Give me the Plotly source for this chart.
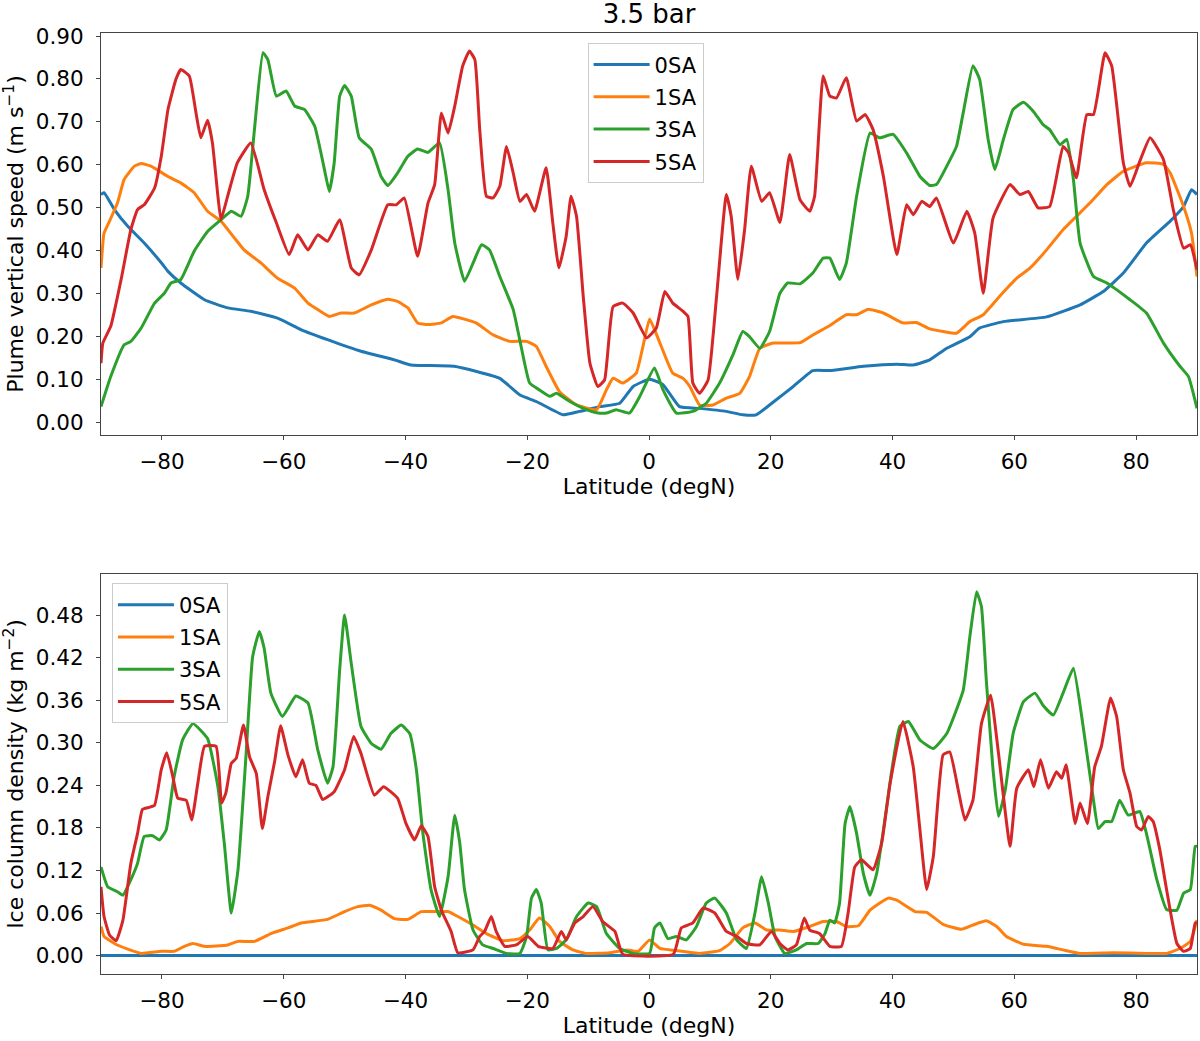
import plotly.graph_objects as go
from plotly.subplots import make_subplots

# latitude (degN), value pairs
speed_0sa = [(-90, 0.531), (-89.5, 0.535), (-87.8, 0.496), (-85.6, 0.457), (-82.9, 0.418), (-80.1, 0.372),
             (-79, 0.352), (-76.9, 0.325), (-73, 0.286), (-69.2, 0.267), (-65.4, 0.259), (-61, 0.243),
             (-57.1, 0.216), (-52.8, 0.193), (-47.3, 0.166), (-41.8, 0.146), (-39.1, 0.134), (-32, 0.131),
             (-24.5, 0.103), (-21.2, 0.064), (-18.5, 0.049), (-14.1, 0.018), (-11.4, 0.026), (-8.1, 0.037),
             (-4.8, 0.045), (-2.6, 0.084), (0.1, 0.101), (2.3, 0.088), (5.0, 0.037), (8.3, 0.033),
             (12.7, 0.026), (15.4, 0.018), (17.6, 0.018), (20.9, 0.053), (23.7, 0.084), (26.9, 0.121),
             (29.7, 0.121), (35.2, 0.131), (40.7, 0.136), (43.4, 0.134), (46.1, 0.146), (48.9, 0.173),
             (52.7, 0.200), (54.3, 0.220), (58.2, 0.235), (65.3, 0.246), (70.8, 0.274), (74.6, 0.305),
             (77.9, 0.348), (81.7, 0.418), (85.6, 0.469), (87.8, 0.503), (89.1, 0.542), (90, 0.531)]

speed_1sa = [(-90, 0.360), (-89.5, 0.441), (-88.6, 0.469), (-87.3, 0.511), (-86.2, 0.566), (-84.5, 0.597),
             (-83.4, 0.603), (-81.8, 0.597), (-79, 0.573), (-76.9, 0.558), (-74.7, 0.535), (-72.5, 0.492),
             (-70.3, 0.469), (-68.1, 0.430), (-66.5, 0.402), (-63.7, 0.371), (-61, 0.336), (-58.2, 0.313),
             (-56, 0.278), (-54.4, 0.263), (-52.5, 0.247), (-50.6, 0.255), (-48.4, 0.255), (-45.6, 0.274),
             (-42.9, 0.287), (-41.3, 0.282), (-39.6, 0.267), (-38, 0.232), (-36.3, 0.228), (-34.1, 0.232),
             (-32.2, 0.247), (-28.4, 0.232), (-25.6, 0.204), (-22.9, 0.189), (-20.1, 0.189), (-18.5, 0.177),
             (-16.9, 0.131), (-14.7, 0.072), (-11.9, 0.041), (-8.6, 0.030), (-7, 0.076), (-5.9, 0.103),
             (-4.3, 0.092), (-2.1, 0.115), (-1, 0.177), (0.1, 0.241), (1.8, 0.185), (3.9, 0.115),
             (5.6, 0.103), (6.7, 0.084), (8.3, 0.041), (10.5, 0.041), (12.7, 0.057), (14.9, 0.068),
             (16.5, 0.107), (18.2, 0.173), (20.4, 0.185), (24.8, 0.186), (26.9, 0.204), (29.7, 0.226),
             (32.4, 0.251), (34.1, 0.251), (36, 0.264), (38.5, 0.255), (41.7, 0.232), (43.9, 0.233),
             (46.1, 0.218), (48.3, 0.212), (50.5, 0.208), (52.7, 0.235), (54.9, 0.251), (57.6, 0.294),
             (60.4, 0.336), (62.6, 0.360), (65.3, 0.402), (68, 0.449), (72.4, 0.511), (75.2, 0.554),
             (77.9, 0.585), (81.7, 0.605), (84.5, 0.601), (85.6, 0.581), (87.8, 0.503), (89.1, 0.441),
             (90, 0.340)]

speed_3sa = [(-90, 0.037), (-88.4, 0.107), (-86.2, 0.181), (-85.1, 0.189), (-83.4, 0.220), (-81.2, 0.278),
             (-79.6, 0.301), (-78.5, 0.325), (-76.9, 0.333), (-74.7, 0.399), (-72.5, 0.445), (-70.3, 0.472),
             (-68.6, 0.492), (-67, 0.480), (-65.9, 0.527), (-64.8, 0.682), (-63.4, 0.861), (-62.6, 0.845),
             (-61.2, 0.760), (-59.6, 0.772), (-58.2, 0.737), (-56.6, 0.729), (-54.9, 0.690), (-53.3, 0.589),
             (-52.5, 0.538), (-51.7, 0.605), (-50.8, 0.760), (-50, 0.785), (-48.9, 0.760), (-47.6, 0.663),
             (-45.6, 0.636), (-44, 0.573), (-42.9, 0.552), (-41.3, 0.581), (-39.6, 0.620), (-38, 0.637),
             (-36.3, 0.629), (-34.4, 0.651), (-33, 0.542), (-31.9, 0.418), (-30.3, 0.329), (-28.9, 0.371),
             (-27.5, 0.414), (-26.2, 0.402), (-24.5, 0.340), (-22.3, 0.263), (-21, 0.177), (-19.6, 0.092),
             (-18, 0.076), (-16.3, 0.061), (-15.2, 0.068), (-13, 0.049), (-10.8, 0.033), (-8.6, 0.023),
             (-7, 0.022), (-5.4, 0.030), (-3.2, 0.022), (-1.5, 0.061), (0.9, 0.127), (2.3, 0.076),
             (4.5, 0.022), (7.2, 0.026), (9.4, 0.045), (11.6, 0.092), (13.8, 0.158), (15.4, 0.212),
             (16.5, 0.200), (18.2, 0.173), (19.8, 0.212), (21.5, 0.301), (22.8, 0.325), (24.8, 0.323),
             (26.9, 0.348), (28.6, 0.383), (29.7, 0.383), (31.3, 0.333), (32.4, 0.371), (34.1, 0.527),
             (36.3, 0.674), (37.9, 0.663), (40.1, 0.671), (42.3, 0.628), (44.5, 0.573), (46.1, 0.552),
             (47.2, 0.554), (48.9, 0.597), (50.5, 0.643), (51.6, 0.721), (53.2, 0.831), (54.3, 0.799),
             (55.7, 0.659), (56.8, 0.589), (58.2, 0.659), (59.8, 0.729), (61.5, 0.746), (63.1, 0.725),
             (64.7, 0.694), (65.8, 0.682), (67.5, 0.647), (68.6, 0.659), (69.7, 0.566), (70.8, 0.418),
             (73, 0.340), (75.2, 0.325), (79, 0.286), (81.7, 0.255), (84.5, 0.185), (87.2, 0.131),
             (88.6, 0.107), (90, 0.033)]

speed_5sa = [(-90, 0.138), (-89.7, 0.185), (-88.4, 0.224), (-86.7, 0.333), (-85.1, 0.449), (-84, 0.496),
             (-82.9, 0.507), (-81.2, 0.546), (-80.1, 0.620), (-79, 0.729), (-77.7, 0.799), (-76.9, 0.822),
             (-75.5, 0.807), (-74.4, 0.721), (-73.6, 0.663), (-72.5, 0.704), (-71.7, 0.651), (-70.8, 0.527),
             (-70.3, 0.472), (-69.2, 0.527), (-67.6, 0.605), (-65.4, 0.651), (-63.2, 0.542), (-61.2, 0.465),
             (-59.1, 0.391), (-57.7, 0.437), (-56, 0.402), (-54.4, 0.437), (-52.8, 0.422), (-50.8, 0.472),
             (-48.9, 0.360), (-47.6, 0.344), (-45.6, 0.402), (-42.9, 0.507), (-41.5, 0.507), (-40.2, 0.523),
             (-38, 0.387), (-36.3, 0.511), (-35.2, 0.554), (-34.1, 0.721), (-33, 0.674), (-31.9, 0.737),
             (-30.6, 0.830), (-29.5, 0.865), (-28.6, 0.845), (-27.8, 0.682), (-26.7, 0.527), (-25.6, 0.523),
             (-24.5, 0.550), (-23.4, 0.643), (-22.3, 0.581), (-21.2, 0.515), (-20.1, 0.531), (-18.8, 0.492),
             (-16.9, 0.593), (-15.8, 0.465), (-14.8, 0.360), (-13.6, 0.434), (-12.8, 0.527), (-11.9, 0.480),
             (-10.8, 0.294), (-9.7, 0.138), (-8.4, 0.084), (-7.3, 0.099), (-5.9, 0.270), (-4.3, 0.278),
             (-2.6, 0.255), (-0.4, 0.197), (1.2, 0.220), (2.6, 0.305), (3.9, 0.278), (5.6, 0.259),
             (6.4, 0.247), (7.2, 0.092), (8.3, 0.068), (9.7, 0.099), (11.1, 0.294), (12.7, 0.531),
             (13.5, 0.480), (14.6, 0.333), (15.7, 0.449), (16.8, 0.597), (18.5, 0.515), (19.8, 0.535),
             (21.5, 0.466), (23.1, 0.624), (24.8, 0.519), (26.4, 0.492), (27.2, 0.527), (28.6, 0.807),
             (29.7, 0.760), (30.8, 0.756), (32.4, 0.803), (34.1, 0.702), (35.5, 0.717), (36.8, 0.682),
             (38.5, 0.573), (40.7, 0.391), (42.3, 0.507), (43.4, 0.484), (44.8, 0.515), (46.1, 0.503),
             (47.2, 0.523), (50, 0.418), (52.2, 0.492), (53.5, 0.441), (54.9, 0.301), (56.5, 0.476),
             (59.3, 0.554), (60.9, 0.531), (62.3, 0.538), (63.9, 0.500), (65.8, 0.503), (68, 0.643),
             (68.9, 0.628), (70.2, 0.570), (71.9, 0.717), (73, 0.717), (74.9, 0.861), (76, 0.830),
             (77.9, 0.605), (79, 0.550), (80.6, 0.608), (82.3, 0.663), (84.5, 0.612), (86.1, 0.496),
             (87.8, 0.406), (88.9, 0.414), (90, 0.356)]

ice_0sa = [(-90, 0.0), (0, 0.0), (90, 0.0)]

ice_1sa = [(-90, 0.041), (-89.5, 0.027), (-87.8, 0.017), (-85.6, 0.009), (-83.4, 0.003), (-80.1, 0.006),
           (-78, 0.006), (-76.3, 0.013), (-74.9, 0.017), (-73, 0.013), (-69.2, 0.015), (-67.5, 0.020),
           (-64.8, 0.020), (-62.1, 0.031), (-59.3, 0.039), (-57.1, 0.046), (-52.8, 0.051), (-50, 0.062),
           (-47.8, 0.069), (-45.9, 0.071), (-44, 0.064), (-41.8, 0.052), (-39.6, 0.051), (-37.4, 0.062),
           (-35.2, 0.062), (-33, 0.062), (-31.4, 0.055), (-28.9, 0.043), (-26.7, 0.031), (-24, 0.021),
           (-21.2, 0.024), (-19.6, 0.036), (-18, 0.053), (-16.3, 0.041), (-14.7, 0.020), (-12.5, 0.008),
           (-10.3, 0.003), (-6.5, 0.004), (-3.7, 0.008), (-1.8, 0.006), (0.1, 0.022), (1.8, 0.010),
           (4.5, 0.007), (8.3, 0.003), (11.6, 0.007), (13.3, 0.017), (15.4, 0.039), (17.4, 0.046),
           (19.3, 0.036), (21.5, 0.036), (23.7, 0.034), (26.4, 0.041), (28.6, 0.048), (30.8, 0.048),
           (32.4, 0.041), (34.4, 0.042), (36.3, 0.064), (39.3, 0.081), (40.7, 0.078), (43.7, 0.062),
           (45.6, 0.061), (48.3, 0.044), (51.3, 0.037), (53.2, 0.043), (55.4, 0.049), (57.1, 0.041),
           (58.7, 0.027), (61.5, 0.016), (65.3, 0.013), (68, 0.008), (70.8, 0.003), (76.2, 0.004),
           (81.7, 0.003), (85, 0.003), (87.2, 0.010), (88.9, 0.020), (90, 0.050)]

ice_3sa = [(-90, 0.125), (-88.9, 0.097), (-87.3, 0.090), (-86.4, 0.085), (-85.1, 0.107), (-84, 0.130),
           (-82.9, 0.168), (-81.5, 0.169), (-80.4, 0.163), (-79.3, 0.177), (-78, 0.252), (-76.6, 0.304),
           (-74.9, 0.327), (-72.5, 0.306), (-70.8, 0.238), (-69.7, 0.154), (-68.6, 0.060), (-67.5, 0.121),
           (-66.2, 0.280), (-65.1, 0.421), (-64, 0.457), (-63.2, 0.433), (-62.1, 0.370), (-60.2, 0.337),
           (-58, 0.366), (-56, 0.356), (-54.4, 0.290), (-52.8, 0.243), (-51.9, 0.266), (-50.8, 0.403),
           (-50, 0.480), (-48.9, 0.412), (-47.3, 0.323), (-45.6, 0.299), (-44, 0.291), (-42.4, 0.313),
           (-40.7, 0.325), (-39.3, 0.313), (-38.2, 0.262), (-37.2, 0.177), (-35.8, 0.093), (-34.4, 0.055),
           (-33, 0.111), (-31.9, 0.198), (-31.1, 0.160), (-30.3, 0.093), (-28.9, 0.036), (-27.3, 0.015),
           (-25.6, 0.010), (-23.4, 0.003), (-21.2, 0.003), (-20.1, 0.027), (-19.3, 0.081), (-18.5, 0.093),
           (-17.7, 0.074), (-16.6, 0.008), (-15.2, 0.010), (-13.6, 0.022), (-11.9, 0.055), (-10, 0.074),
           (-8.6, 0.069), (-7, 0.031), (-4.8, 0.010), (-2.6, 0.003), (0.1, 0.003), (0.9, 0.039),
           (1.8, 0.046), (3.1, 0.024), (4.5, 0.027), (6.1, 0.022), (7.8, 0.041), (9.4, 0.074),
           (10.8, 0.081), (12.7, 0.060), (14.4, 0.022), (16, 0.010), (17.4, 0.060), (18.5, 0.111),
           (19.6, 0.074), (20.7, 0.027), (22.3, 0.003), (24.2, 0.008), (25.9, 0.017), (27.8, 0.017),
           (28.9, 0.031), (29.7, 0.050), (30.5, 0.046), (31.3, 0.074), (32.2, 0.186), (33, 0.210),
           (34.1, 0.172), (35.2, 0.116), (36.3, 0.085), (37.4, 0.116), (38.5, 0.177), (39.8, 0.257),
           (41.2, 0.323), (42.6, 0.330), (44.5, 0.304), (46.7, 0.292), (48.9, 0.313), (51.6, 0.374),
           (52.7, 0.450), (53.8, 0.513), (54.6, 0.492), (55.4, 0.388), (56.5, 0.262), (57.4, 0.196),
           (58.5, 0.233), (59.8, 0.313), (61.5, 0.358), (63.4, 0.370), (64.7, 0.353), (66.4, 0.339),
           (68, 0.370), (69.7, 0.405), (71.3, 0.323), (73, 0.219), (73.8, 0.179), (74.9, 0.189),
           (76, 0.189), (77.3, 0.219), (78.7, 0.198), (80.6, 0.203), (81.7, 0.172), (83.4, 0.107),
           (85, 0.065), (86.7, 0.064), (87.8, 0.088), (88.9, 0.093), (89.7, 0.154), (90, 0.154)]

ice_5sa = [(-90, 0.097), (-89.5, 0.055), (-88.6, 0.029), (-87.5, 0.021), (-86.4, 0.050), (-85.1, 0.130),
           (-84, 0.172), (-83.2, 0.206), (-82.1, 0.209), (-81.2, 0.212), (-80.1, 0.262), (-79.2, 0.286),
           (-78.2, 0.252), (-77.4, 0.222), (-76, 0.219), (-75.1, 0.191), (-74.1, 0.243), (-73, 0.295),
           (-71.1, 0.295), (-70.2, 0.215), (-69.5, 0.229), (-68.6, 0.271), (-67.8, 0.278), (-66.6, 0.325),
           (-65.6, 0.280), (-64.5, 0.257), (-63.5, 0.179), (-62.6, 0.224), (-61.5, 0.273), (-60.5, 0.324),
           (-59.3, 0.283), (-58, 0.252), (-56.9, 0.276), (-55.8, 0.243), (-54.7, 0.240), (-53.6, 0.220),
           (-51.7, 0.231), (-50, 0.262), (-48.5, 0.309), (-47.3, 0.285), (-45.1, 0.226), (-43.6, 0.238),
           (-41.3, 0.222), (-39.9, 0.186), (-38.5, 0.163), (-37.4, 0.183), (-36.3, 0.168), (-35.2, 0.097),
           (-34.1, 0.064), (-32.5, 0.034), (-31.4, 0.004), (-28.9, 0.008), (-27.8, 0.027), (-27, 0.034),
           (-25.9, 0.055), (-25.1, 0.034), (-23.7, 0.013), (-21.8, 0.015), (-19.9, 0.027), (-18.2, 0.013),
           (-15.8, 0.010), (-14.4, 0.034), (-13.6, 0.022), (-12.2, 0.046), (-10.8, 0.055), (-9.2, 0.069),
           (-7.6, 0.048), (-5.6, 0.034), (-4.3, 0.002), (4, 0.002), (5.3, 0.039), (7.2, 0.046),
           (8.9, 0.067), (10.8, 0.060), (12.7, 0.034), (14.4, 0.027), (16, 0.017), (18.2, 0.015),
           (20.1, 0.034), (21.5, 0.017), (22.8, 0.008), (24.2, 0.015), (25.5, 0.053), (26.4, 0.036),
           (28, 0.031), (29.7, 0.013), (31.6, 0.013), (32.7, 0.060), (33.8, 0.125), (34.9, 0.135),
           (36.8, 0.121), (38.2, 0.158), (39.6, 0.243), (41.7, 0.330), (43.4, 0.266), (44.5, 0.177),
           (45.6, 0.093), (46.7, 0.140), (48.3, 0.283), (49.4, 0.287), (50.8, 0.233), (51.9, 0.191),
           (53.2, 0.219), (54.6, 0.327), (56.1, 0.367), (57.4, 0.285), (59.3, 0.154), (60.4, 0.236),
           (62.3, 0.262), (63.2, 0.238), (64.3, 0.276), (65.6, 0.236), (66.9, 0.259), (67.8, 0.250),
           (68.5, 0.269), (70, 0.186), (70.8, 0.215), (72, 0.186), (73.2, 0.266), (74.3, 0.295),
           (75.8, 0.363), (76.8, 0.337), (77.9, 0.262), (79, 0.229), (80.1, 0.182), (80.9, 0.177),
           (82, 0.196), (82.8, 0.189), (83.9, 0.149), (85, 0.093), (86.7, 0.017), (87.8, 0.006),
           (88.9, 0.010), (89.7, 0.046), (90, 0.046)]

names = ["0SA", "1SA", "3SA", "5SA"]
colors = ["#1f77b4", "#ff7f0e", "#2ca02c", "#d62728"]
lat_ticks = [-80, -60, -40, -20, 0, 20, 40, 60, 80]
speed_ticks = [0.0, 0.1, 0.2, 0.3, 0.4, 0.5, 0.6, 0.7, 0.8, 0.9]
ice_ticks = [0.0, 0.06, 0.12, 0.18, 0.24, 0.30, 0.36, 0.42, 0.48]

fig = make_subplots(rows=2, cols=1)

for i, series in enumerate([speed_0sa, speed_1sa, speed_3sa, speed_5sa]):
    lat, val = zip(*series)
    fig.add_trace(
        go.Scatter(x=lat, y=val, mode="lines", name=names[i], legend="legend",
                   legendgroup="top" + names[i],
                   line=dict(color=colors[i], width=3, shape="spline", smoothing=0.4)),
        row=1, col=1,
    )

for i, series in enumerate([ice_0sa, ice_1sa, ice_3sa, ice_5sa]):
    lat, val = zip(*series)
    fig.add_trace(
        go.Scatter(x=lat, y=val, mode="lines", name=names[i], legend="legend2",
                   legendgroup="bot" + names[i],
                   line=dict(color=colors[i], width=3, shape="spline", smoothing=0.4)),
        row=2, col=1,
    )

axis_style = dict(showline=True, linecolor="#444", linewidth=1, mirror=True,
                  ticks="outside", ticklen=4, tickcolor="#444", showgrid=False, zeroline=False,
                  tickfont=dict(size=21.5), title_font=dict(size=22))

fig.update_xaxes(range=[-90, 90], tickvals=lat_ticks, title_text="Latitude (degN)",
                 ticklabelstandoff=3, title_standoff=2, **axis_style)
fig.update_yaxes(ticklabelstandoff=8, title_standoff=8, **axis_style)
fig.update_yaxes(range=[-0.029, 0.907], tickvals=speed_ticks, tickformat=".2f",
                 title_text="Plume vertical speed (m s<sup>\u22121</sup>)",
                 domain=[0.5728, 1.0], row=1, col=1)
fig.update_yaxes(range=[-0.026, 0.538], tickvals=ice_ticks, tickformat=".2f",
                 title_text="Ice column density (kg m<sup>\u22122</sup>)",
                 domain=[0.0, 0.4251], row=2, col=1)

legend_style = dict(bgcolor="rgba(255,255,255,0.8)", bordercolor="#cccccc", borderwidth=1,
                    font=dict(size=21), tracegroupgap=2, itemwidth=56,
                    xanchor="left", yanchor="top")

fig.update_layout(
    title=dict(text="3.5 bar", x=0.5, xref="paper", xanchor="center",
               y=1 - 14 / 1041, yref="container", yanchor="middle", font=dict(size=26)),
    font=dict(family="DejaVu Sans", size=21, color="black"),
    plot_bgcolor="white",
    paper_bgcolor="white",
    width=1200,
    height=1041,
    margin=dict(l=101, r=3, t=33, b=67),
    legend=dict(x=0.444, y=0.989, **legend_style),
    legend2=dict(x=0.010, y=0.415, **legend_style),
)

# drop the browser's default body margin so the figure sits at the page corner
fig.write_html("out.html", config={"displayModeBar": False},
               post_script="document.body.style.margin = '0';")
